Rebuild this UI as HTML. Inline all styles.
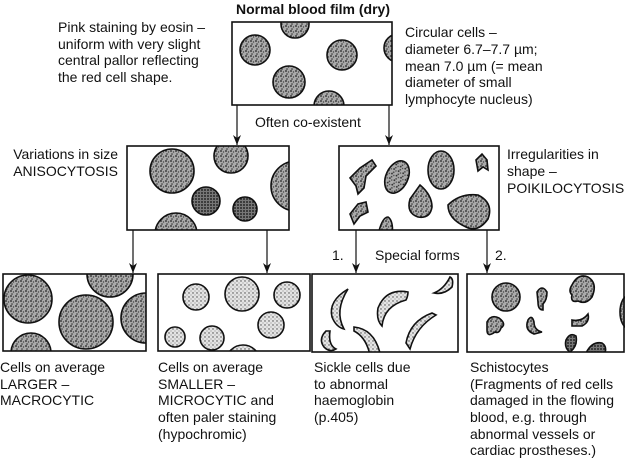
<!DOCTYPE html>
<html><head><meta charset="utf-8"><style>
html,body{margin:0;padding:0;background:#fff;width:625px;height:459px;overflow:hidden}
svg{display:block}
text{font-family:"Liberation Sans","DejaVu Sans",sans-serif;font-size:14px;fill:#111}
</style></head><body>
<svg width="625" height="459" viewBox="0 0 625 459" xmlns="http://www.w3.org/2000/svg">
<defs>
<pattern id="dk" width="5" height="5" patternUnits="userSpaceOnUse"><rect width="5" height="5" fill="#aaa"/><circle cx="1" cy="1" r="0.9" fill="#222"/><circle cx="3.5" cy="2" r="0.7" fill="#444"/><circle cx="2" cy="4" r="0.8" fill="#333"/></pattern>
<pattern id="dd" width="3" height="3" patternUnits="userSpaceOnUse"><rect width="3" height="3" fill="#777"/><circle cx="1" cy="1" r="0.9" fill="#111"/></pattern>
<pattern id="lt" width="4" height="4" patternUnits="userSpaceOnUse"><rect width="4" height="4" fill="#e4e4e4"/><circle cx="1" cy="1" r="0.7" fill="#444"/><circle cx="3" cy="3" r="0.5" fill="#666"/></pattern>
<clipPath id="c0"><rect x="232" y="22" width="160" height="83"/></clipPath>
<clipPath id="c1"><rect x="127" y="146" width="162" height="84"/></clipPath>
<clipPath id="c2"><rect x="339" y="146" width="160" height="84"/></clipPath>
<clipPath id="c3"><rect x="3" y="274" width="143" height="77"/></clipPath>
<clipPath id="c4"><rect x="158" y="274" width="152" height="77"/></clipPath>
<clipPath id="c5"><rect x="312" y="274" width="146" height="78"/></clipPath>
<clipPath id="c6"><rect x="467" y="274" width="158" height="78"/></clipPath>
<marker id="ar" markerWidth="11" markerHeight="8" refX="10" refY="4" orient="auto" markerUnits="userSpaceOnUse"><path d="M0,0 L10,4 L0,8 L3,4 Z" fill="#111"/></marker>
</defs>
<g stroke="#111" stroke-width="1.6">
<g clip-path="url(#c0)" fill="url(#dk)">
<circle cx="255" cy="50" r="15"/><circle cx="295" cy="24" r="14"/><circle cx="342" cy="55" r="15"/><circle cx="289" cy="82" r="16"/><circle cx="329" cy="106" r="15"/><circle cx="398" cy="48" r="14"/>
</g>
<g clip-path="url(#c1)" fill="url(#dk)">
<circle cx="172" cy="171" r="22"/><circle cx="231" cy="156" r="17"/><circle cx="296" cy="186" r="25"/><circle cx="206" cy="201" r="14" fill="url(#dd)"/><circle cx="245" cy="209" r="12" fill="url(#dd)"/><circle cx="176" cy="234" r="21"/>
</g>
<g clip-path="url(#c2)" fill="url(#dk)">
<path d="M350,178 l10,-10 l12,-8 l4,6 l-10,10 l-2,12 l-6,6 l-2,-8 z"/>
<ellipse cx="397" cy="177" rx="11" ry="17" transform="rotate(25 397 177)"/>
<ellipse cx="441" cy="170" rx="13" ry="19"/>
<path d="M476,160 l6,-6 l5,6 l1,10 l-5,-3 l-5,4 z"/>
<path d="M350,214 l8,-10 l8,-2 l2,10 l-8,4 l-6,8 z"/>
<path d="M420,185 q12,10 12,22 q-2,12 -14,10 q-12,-4 -8,-18 z"/>
<path d="M448,205 q12,-12 30,-10 q16,8 10,24 q-10,14 -22,8 q-18,-8 -18,-22 z"/>
<path d="M378,235 q4,-18 10,-18 q6,4 4,20 z"/>
</g>
<g clip-path="url(#c3)" fill="url(#dk)">
<circle cx="28" cy="299" r="24"/><circle cx="110" cy="274" r="23"/><circle cx="86" cy="322" r="27"/><circle cx="146" cy="318" r="25"/><circle cx="31" cy="353" r="20"/>
</g>
<g clip-path="url(#c4)" fill="url(#lt)">
<circle cx="196" cy="297" r="13"/><circle cx="242" cy="294" r="17"/><circle cx="287" cy="295" r="13"/><circle cx="175" cy="337" r="10"/><circle cx="212" cy="338" r="12"/><circle cx="271" cy="325" r="13"/><circle cx="243" cy="362" r="17"/>
</g>
<g clip-path="url(#c5)" fill="url(#lt)">
<path d="M348,289 q-20,12 -16,28 q4,10 12,12 q-10,-18 4,-40 z"/>
<path d="M408,292 q-22,-4 -30,16 q-2,12 4,18 q2,-20 24,-26 q2,-4 2,-8 z"/>
<path d="M432,313 q-22,8 -26,30 l4,6 q6,-22 26,-34 z"/>
<path d="M450,277 q-6,12 -16,16 q10,2 18,-6 q2,-8 -2,-10 z"/>
<path d="M326,331 q-8,8 -2,16 q6,6 12,2 q-8,-4 -6,-18 z"/>
<path d="M354,327 q20,2 26,26 l-10,2 q-4,-18 -16,-24 z"/>
</g>
<g clip-path="url(#c6)" fill="url(#dk)">
<circle cx="506" cy="297" r="14"/>
<path d="M537,292 q5,-8 10,0 q0,8 -4,12 l0,6 q-5,0 -5,-8 z"/>
<path d="M572,285 q6,-12 16,-8 q10,6 4,20 q-6,8 -14,4 q-8,2 -6,-6 q-4,-4 0,-10 z"/>
<path d="M487,322 q4,-8 12,-4 q8,6 2,10 q-2,6 -6,4 q-8,6 -8,-2 z"/>
<path d="M528,320 q4,-6 6,2 q0,8 8,10 l-8,2 q-10,-4 -6,-14 z"/>
<path d="M572,320 q10,2 16,-6 q2,8 -6,12 l-10,0 z"/>
<path d="M566,340 q4,-8 10,-4 q2,10 -6,16 q-6,-4 -4,-12 z" fill="url(#dd)"/>
<path d="M586,353 q6,-12 16,-10 q6,4 2,12 z" fill="url(#dd)"/>
<ellipse cx="628" cy="312" rx="8" ry="16"/>
</g>
<g fill="none">
<rect x="232" y="22" width="160" height="83"/>
<rect x="127" y="146" width="162" height="84"/>
<rect x="339" y="146" width="160" height="84"/>
<rect x="3" y="274" width="143" height="77"/>
<rect x="158" y="274" width="152" height="77"/>
<rect x="312" y="274" width="146" height="78"/>
<rect x="467" y="274" width="157" height="78"/>
</g>
<g stroke-width="1.2" fill="none" marker-end="url(#ar)">
<line x1="237" y1="105" x2="237" y2="145"/>
<line x1="389" y1="105" x2="389" y2="145"/>
<line x1="133" y1="230" x2="133" y2="273"/>
<line x1="267" y1="230" x2="267" y2="273"/>
<line x1="356" y1="230" x2="356" y2="273"/>
<line x1="487" y1="230" x2="487" y2="273"/>
</g>
</g>
<text x="313" y="14" text-anchor="middle" font-weight="bold">Normal blood film (dry)</text>
<text x="58" y="32">Pink staining by eosin –</text>
<text x="58" y="49">uniform with very slight</text>
<text x="58" y="65">central pallor reflecting</text>
<text x="58" y="82">the red cell shape.</text>
<text x="405" y="37">Circular cells –</text>
<text x="405" y="54">diameter 6.7–7.7 µm;</text>
<text x="405" y="71">mean 7.0 µm (= mean</text>
<text x="405" y="87">diameter of small</text>
<text x="405" y="104">lymphocyte nucleus)</text>
<text x="255" y="127">Often co-existent</text>
<text x="118" y="159" text-anchor="end">Variations in size</text>
<text x="118" y="176" text-anchor="end">ANISOCYTOSIS</text>
<text x="507" y="159">Irregularities in</text>
<text x="507" y="176">shape –</text>
<text x="507" y="193">POIKILOCYTOSIS</text>
<text x="332" y="260">1.</text>
<text x="375" y="260">Special forms</text>
<text x="495" y="260">2.</text>
<text x="0" y="372">Cells on average</text>
<text x="0" y="389">LARGER –</text>
<text x="0" y="405">MACROCYTIC</text>
<text x="158" y="372">Cells on average</text>
<text x="158" y="389">SMALLER –</text>
<text x="158" y="405">MICROCYTIC and</text>
<text x="158" y="422">often paler staining</text>
<text x="158" y="439">(hypochromic)</text>
<text x="314" y="372">Sickle cells due</text>
<text x="314" y="389">to abnormal</text>
<text x="314" y="405">haemoglobin</text>
<text x="314" y="422">(p.405)</text>
<text x="470" y="372">Schistocytes</text>
<text x="470" y="389">(Fragments of red cells</text>
<text x="470" y="405">damaged in the flowing</text>
<text x="470" y="422">blood, e.g. through</text>
<text x="470" y="439">abnormal vessels or</text>
<text x="470" y="455">cardiac prostheses.)</text>
</svg>
</body></html>
